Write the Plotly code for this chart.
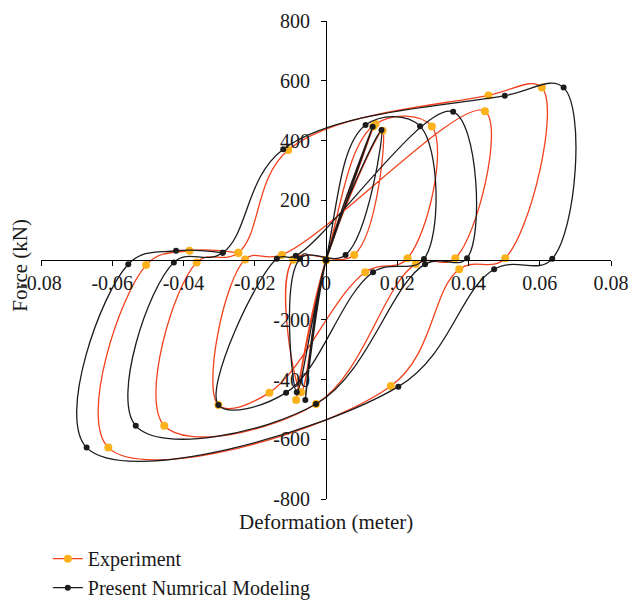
import plotly.graph_objects as go

# Experiment (orange markers, red line) - path order
exp_x = [0, 0.0133, 0, -0.0070, -0.0092, 0.0079, 0.0159, 0, -0.0084, 0, 0.0139,
         0.0297, 0.0229, 0.0110, -0.0159, -0.0302, -0.0227, -0.0124, 0.0446,
         0.0363, 0.0252, -0.0028, -0.0454, -0.0363, -0.0246, -0.0106, 0.0456,
         0.0606, 0.0503, 0.0374, 0.0182, -0.0611, -0.0505, -0.0383, -0.0246]
exp_y = [0, 447, 0, -443, 1, 17, 433, 0, -469, 0, 455,
         447, 6, -41, -444, -485, 2, 17, 498,
         6, -13, -482, -555, -8, 24, 368, 551,
         577, 6, -31, -422, -628, -17, 31, 24]

# Present numerical modeling (black)
num_x = [0, 0.0131, 0, -0.0082, -0.0073, 0.0055, 0.0156, 0, -0.0058, 0, 0.0111,
         0.0264, 0.0275, 0.0132, -0.0112, -0.0302, -0.0138, -0.0085, 0.0357,
         0.0396, 0.0278, -0.0028, -0.0534, -0.0427, -0.0290, -0.0120, 0.0502,
         0.0667, 0.0635, 0.0472, 0.0203, -0.0672, -0.0555, -0.0421, -0.0290]
num_y = [0, 446, 0, -443, 4, 17, 435, 0, -469, 0, 452,
         448, 3, -41, -444, -485, 4, 14, 496,
         6, -14, -482, -555, -8, 24, 371, 550,
         577, 4, -31, -424, -628, -14, 31, 24]

x_ticks = [-0.08, -0.06, -0.04, -0.02, 0, 0.02, 0.04, 0.06, 0.08]
x_labels = ["-0.08", "-0.06", "-0.04", "-0.02", "0", "0.02", "0.04", "0.06", "0.08"]
y_ticks = [-800, -600, -400, -200, 0, 200, 400, 600, 800]
y_labels = ["-800", "-600", "-400", "-200", "0", "200", "400", "600", "800"]

FONT = "Liberation Serif"
RED = "#f2401c"
ORANGE = "#fdb21b"
BLACK = "#1c1c1c"
TXT = "#1a1a1a"

fig = go.Figure()
fig.add_trace(go.Scatter(
    x=exp_x, y=exp_y, mode="lines+markers", name="Experiment",
    line=dict(color=RED, width=1.3, shape="spline", smoothing=1.1),
    marker=dict(color=ORANGE, size=8),
))
fig.add_trace(go.Scatter(
    x=num_x, y=num_y, mode="lines+markers", name="Present Numrical Modeling",
    line=dict(color=BLACK, width=1.3, shape="spline", smoothing=1.1),
    marker=dict(color=BLACK, size=6),
))

axis_common = dict(showgrid=False, zeroline=False, showline=True,
                   linecolor="black", linewidth=1.2, tickcolor="black",
                   ticklen=5, tickwidth=1.2,
                   tickfont=dict(family=FONT, size=20, color=TXT))

fig.update_layout(
    width=629, height=603,
    margin=dict(l=41, r=18, t=21, b=104, autoexpand=False),
    paper_bgcolor="white", plot_bgcolor="white",
    font=dict(family=FONT, size=21, color=TXT),
    xaxis=dict(range=[-0.08, 0.08], anchor="free", position=0.5,
               ticks="outside", tickvals=x_ticks, ticktext=x_labels,
               **axis_common),
    yaxis=dict(range=[-800, 800], anchor="free", position=0.5,
               ticks="outside", tickvals=y_ticks, ticktext=y_labels,
               ticklabelstandoff=7, **axis_common),
    xaxis2=dict(range=[-0.08, 0.08], overlaying="x", anchor="free", position=0.5,
                ticks="inside", tickvals=x_ticks, showticklabels=False,
                showgrid=False, zeroline=False, showline=False,
                ticklen=5, tickwidth=1.2, tickcolor="black"),
    yaxis2=dict(range=[-800, 800], overlaying="y", anchor="free", position=0.5,
                ticks="inside", tickvals=y_ticks, showticklabels=False,
                showgrid=False, zeroline=False, showline=False,
                ticklen=5, tickwidth=1.2, tickcolor="black"),
    legend=dict(x=0.012, y=-0.084, xanchor="left", yanchor="top",
                font=dict(family=FONT, size=20, color=TXT),
                bgcolor="rgba(0,0,0,0)"),
    showlegend=True,
    annotations=[
        dict(text="Deformation (meter)", x=0.5, y=-0.048, xref="paper", yref="paper",
             showarrow=False, font=dict(family=FONT, size=21, color=TXT),
             xanchor="center", yanchor="middle"),
        dict(text="Force (kN)", x=-0.037, y=0.49, xref="paper", yref="paper",
             showarrow=False, textangle=-90,
             font=dict(family=FONT, size=21, color=TXT),
             xanchor="center", yanchor="middle"),
    ],
)

fig.write_html("out.html")
